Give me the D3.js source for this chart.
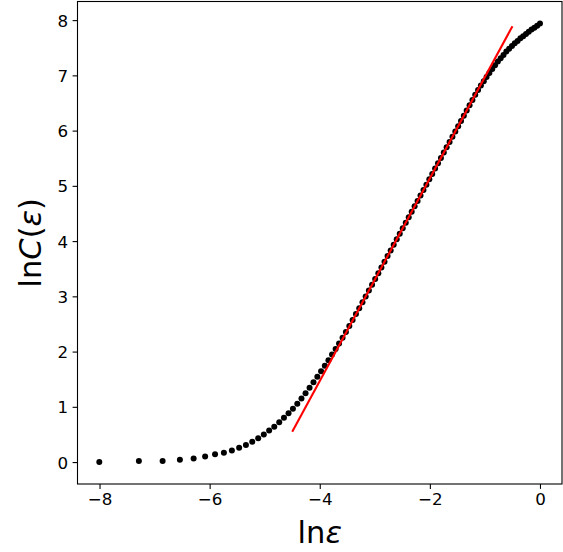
<!DOCTYPE html>
<html>
<head>
<meta charset="utf-8">
<script src="https://cdn.jsdelivr.net/npm/d3@7"></script>
<style>
  body { margin: 0; background: #fff; }
  svg { display: block; font-family: "DejaVu Sans", sans-serif; }
</style>
</head>
<body>
<div id="chart"></div>
<script>
// ln(eps) values
const lnEps = [
  -8.004, -7.285, -6.854, -6.540, -6.291, -6.082, -5.902, -5.741, -5.596, -5.464,
  -5.341, -5.226, -5.118, -5.016, -4.919, -4.826, -4.736, -4.650, -4.567, -4.487,
  -4.408, -4.332, -4.258, -4.185, -4.114, -4.044, -3.976, -3.908, -3.842, -3.777,
  -3.712, -3.649, -3.586, -3.525, -3.463, -3.403, -3.343, -3.283, -3.224, -3.166,
  -3.108, -3.050, -2.993, -2.936, -2.880, -2.824, -2.768, -2.712, -2.657, -2.602,
  -2.547, -2.493, -2.438, -2.384, -2.330, -2.277, -2.223, -2.170, -2.116, -2.063,
  -2.010, -1.957, -1.905, -1.852, -1.799, -1.747, -1.695, -1.642, -1.590, -1.538,
  -1.486, -1.434, -1.383, -1.331, -1.279, -1.227, -1.176, -1.124, -1.073, -1.021,
  -0.970, -0.919, -0.867, -0.816, -0.765, -0.714, -0.663, -0.611, -0.560, -0.509,
  -0.458, -0.407, -0.356, -0.305, -0.254, -0.204, -0.153, -0.102, -0.051, 0.000
];
// ln C(eps) values
const lnC = [
  0.000, 0.020, 0.020, 0.040, 0.065, 0.100, 0.140, 0.170, 0.210, 0.260,
  0.310, 0.370, 0.430, 0.500, 0.570, 0.640, 0.720, 0.800, 0.885, 0.965,
  1.055, 1.150, 1.245, 1.345, 1.445, 1.545, 1.645, 1.745, 1.845, 1.945,
  2.045, 2.145, 2.250, 2.355, 2.465, 2.572, 2.680, 2.785, 2.891, 2.998,
  3.104, 3.211, 3.315, 3.420, 3.523, 3.625, 3.728, 3.831, 3.932, 4.033,
  4.134, 4.233, 4.334, 4.433, 4.532, 4.629, 4.728, 4.826, 4.925, 5.022,
  5.119, 5.216, 5.312, 5.409, 5.506, 5.602, 5.697, 5.794, 5.890, 5.985,
  6.081, 6.176, 6.270, 6.365, 6.461, 6.556, 6.650, 6.735, 6.815, 6.895,
  6.970, 7.045, 7.115, 7.185, 7.250, 7.310, 7.370, 7.430, 7.480, 7.530,
  7.580, 7.620, 7.670, 7.710, 7.750, 7.790, 7.830, 7.860, 7.900, 7.940
];
// fitted straight line (end points)
const fitX = [-4.5, -0.5];
const fitY = [0.55, 7.89];

const xTicks = [-8, -6, -4, -2, 0];
const yTicks = [0, 1, 2, 3, 4, 5, 6, 7, 8];

const width = 563, height = 552;
const margin = { left: 77.5, right: 562, top: 1.5, bottom: 484 };

const svg = d3.select("#chart")
    .append("svg")
    .attr("width", width)
    .attr("height", height);

const x = d3.scaleLinear().domain([-8.4, 0.4]).range([margin.left, margin.right]);
const y = d3.scaleLinear().domain([-0.397, 8.337]).range([margin.bottom, margin.top]);

const fmt = d => d3.format("d")(d);

// axes
const xAxis = svg.append("g")
    .attr("transform", `translate(0, ${margin.bottom})`)
    .call(d3.axisBottom(x).tickValues(xTicks).tickFormat(fmt).tickSize(4.9).tickPadding(4.5));
const yAxis = svg.append("g")
    .attr("transform", `translate(${margin.left}, 0)`)
    .call(d3.axisLeft(y).tickValues(yTicks).tickFormat(fmt).tickSize(4.9).tickPadding(4.5));

[xAxis, yAxis].forEach(function (g) {
    g.select(".domain").remove();
    g.selectAll(".tick line").attr("stroke", "#000").attr("stroke-width", 1.1);
    g.selectAll(".tick text")
        .attr("fill", "#000")
        .style("font-size", "16.7px")
        .style("font-family", "DejaVu Sans");
});
yAxis.selectAll(".tick text").attr("dy", "0.36em");

// frame
svg.append("rect")
    .attr("x", margin.left)
    .attr("y", margin.top)
    .attr("width", margin.right - margin.left)
    .attr("height", margin.bottom - margin.top)
    .attr("fill", "none")
    .attr("stroke", "#000")
    .attr("stroke-width", 1.1);

// points
svg.append("g")
    .selectAll("circle")
    .data(lnEps)
    .enter().append("circle")
    .attr("cx", d => x(d))
    .attr("cy", (d, i) => y(lnC[i]))
    .attr("r", 3)
    .attr("fill", "#000");

// fit line
svg.append("line")
    .attr("x1", x(fitX[0]))
    .attr("y1", y(fitY[0]))
    .attr("x2", x(fitX[1]))
    .attr("y2", y(fitY[1]))
    .attr("stroke", "#ff0000")
    .attr("stroke-width", 2.1);

// axis labels
svg.append("text")
    .attr("x", (margin.left + margin.right) / 2)
    .attr("y", 543)
    .attr("text-anchor", "middle")
    .style("font-size", "30.5px")
    .html('ln<tspan font-style="italic">ε</tspan>');

svg.append("text")
    .attr("transform", `translate(41, ${(margin.top + margin.bottom) / 2}) rotate(-90)`)
    .attr("text-anchor", "middle")
    .style("font-size", "30.5px")
    .html('ln<tspan font-style="italic">C</tspan>(<tspan font-style="italic">ε</tspan>)');
</script>
</body>
</html>
